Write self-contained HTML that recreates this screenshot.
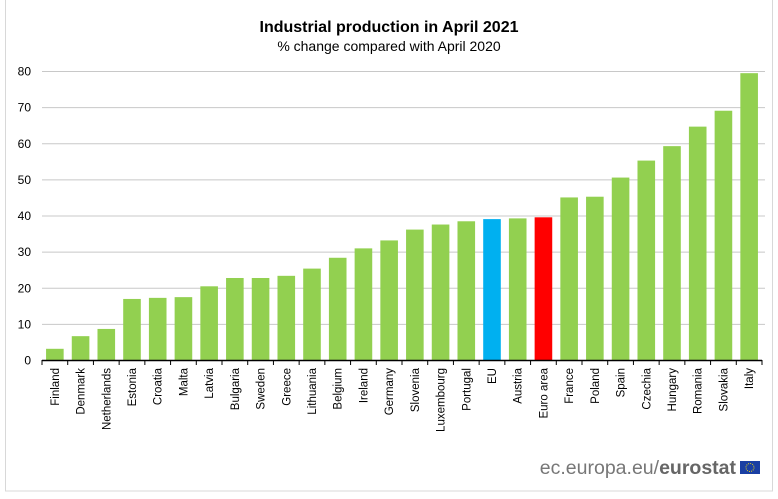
<!DOCTYPE html>
<html><head><meta charset="utf-8"><style>
body{margin:0;background:#fff;font-family:"Liberation Sans",Arial,sans-serif;}
svg{display:block}
</style></head><body>
<svg id="chart" width="778" height="499">
<rect x="5.5" y="-5" width="767" height="496" fill="#fff" stroke="#d8d8d8"/>
<text x="389" y="32" text-anchor="middle" font-size="16" font-weight="bold" fill="#000">Industrial production in April 2021</text>
<text x="389" y="51" text-anchor="middle" font-size="14" fill="#000">% change compared with April 2020</text>
<g id="grid"></g><g id="bars"></g><g id="xlabels"></g>
<text x="736" y="474" text-anchor="end" font-size="19.5" fill="#777">ec.europa.eu/<tspan font-weight="bold" fill="#666">eurostat</tspan></text>
<rect x="740" y="461" width="20" height="13" fill="#1a3fa3"/>
<circle cx="750" cy="467.5" r="4" fill="none" stroke="#e6d21a" stroke-width="1" stroke-dasharray="1 1.1"/>
</svg>
<script>
const categories=["Finland","Denmark","Netherlands","Estonia","Croatia","Malta","Latvia","Bulgaria","Sweden","Greece","Lithuania","Belgium","Ireland","Germany","Slovenia","Luxembourg","Portugal","EU","Austria","Euro area","France","Poland","Spain","Czechia","Hungary","Romania","Slovakia","Italy"];
const values=[3.1,6.6,8.6,16.9,17.2,17.4,20.4,22.7,22.7,23.3,25.3,28.3,30.9,33.1,36.1,37.5,38.4,39.0,39.2,39.5,45.0,45.2,50.5,55.2,59.2,64.6,69.0,79.4];
const yTicks=[0,10,20,30,40,50,60,70,80];
const NS="http://www.w3.org/2000/svg";
const x0=42,x1=762,y0=360,yTop=71;
const step=(x1-x0)/categories.length;
const y=v=>y0-(v/80)*(y0-yTop);
const xc=i=>x0+step*(i+0.5);
function mk(t,a,p){const e=document.createElementNS(NS,t);for(const k in a)e.setAttribute(k,a[k]);p.appendChild(e);return e;}
const grid=document.getElementById('grid');
yTicks.forEach(v=>{
  if(v>0){const l=mk('line',{x1:x0,x2:765,y1:y(v)+.5,y2:y(v)+.5,stroke:'#c8c8c8'},grid);
  
  }
  const t=mk('text',{x:31,y:y(v)+4.5,'text-anchor':'end','font-size':12,fill:'#000'},grid);
  t.textContent=v;
  
  
});
const bars=document.getElementById('bars');
values.forEach((v,i)=>{
  const c=categories[i]==='EU'?'#00b0f0':categories[i]==='Euro area'?'#ff0000':'#92d050';
  const r=mk('rect',{x:xc(i)-8.8,y:y(v),width:17.6,height:y0-y(v),fill:c},bars);
  
  
});
const ax=mk('line',{x1:x0,x2:x1,y1:y0+.5,y2:y0+.5,stroke:'#000','stroke-width':1.5},bars);


const xl=document.getElementById('xlabels');
for(let i=0;i<=categories.length;i++){
  const tk=mk('line',{x1:x0+step*i,x2:x0+step*i,y1:y0,y2:y0+5,stroke:'#000'},xl);
  
  
}
categories.forEach((c,i)=>{
  const t=mk('text',{transform:`translate(${xc(i)+4},368) rotate(-90)`,'text-anchor':'end','font-size':11.5,fill:'#000'},xl);
  t.textContent=c;
  
  
});
</script>
</body></html>
